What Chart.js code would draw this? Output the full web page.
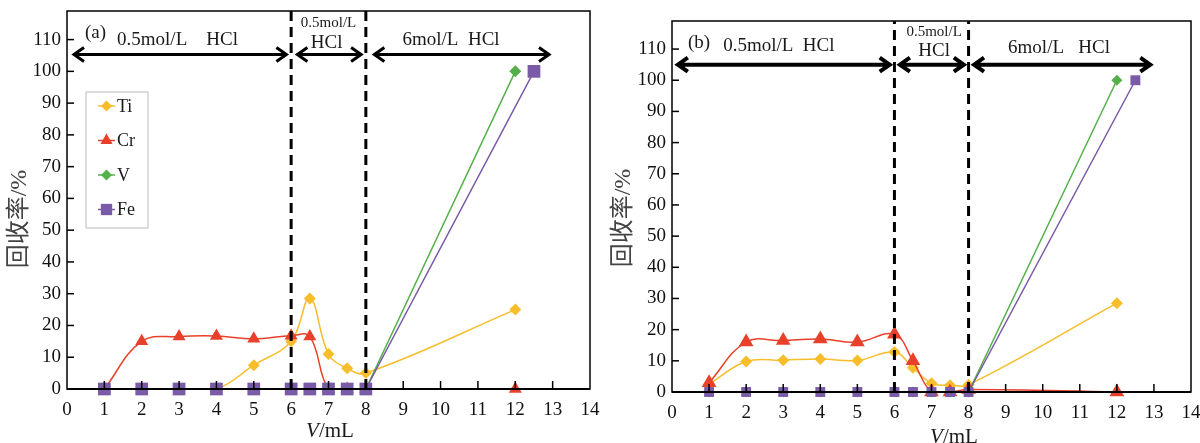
<!DOCTYPE html>
<html>
<head>
<meta charset="utf-8">
<script src="https://cdn.jsdelivr.net/npm/chart.js@4.4.0/dist/chart.umd.min.js"></script>
<style>
body { margin: 0; background: #fff; }
#wrap { position: relative; width: 1200px; height: 443px; }
canvas { position: absolute; top: 0; }
</style>
</head>
<body>
<div id="wrap">
  <canvas id="chartA" width="600" height="443" style="left:0"></canvas>
  <canvas id="chartB" width="600" height="443" style="left:600px"></canvas>
</div>
<script>
// eluent volume (mL)
var volume = [1, 2, 3, 4, 5, 6, 6.5, 7, 7.5, 8, 12];
var volumeFe = [1, 2, 3, 4, 5, 6, 6.5, 7, 7.5, 8, 12.5];

// (a)
var tiA = [0, 0, 0, 0, 7.5, 15, 28.5, 11, 6.5, 5, 25];
var crA = [0, 15, 16.5, 16.7, 15.8, 16.8, 16.5, 0, 0, 0, 0];
var vA  = [0, 0, 0, 0, 0, 0, 0, 0, 0, 0, 100];
var feA = [0, 0, 0, 0, 0, 0, 0, 0, 0, 0, 100];

// (b)
var tiB = [2.5, 9.8, 10.2, 10.6, 10.1, 12.8, 7.8, 2.8, 2.2, 2.3, 28.5];
var crB = [3, 16, 16.5, 17, 16, 18.5, 10, 0, 0, 0.8, 0];
var vB  = [0, 0, 0, 0, 0, 0, 0, 0, 0, 0, 100];
var feB = [0, 0, 0, 0, 0, 0, 0, 0, 0, 0, 100];

var names = ['Ti', 'Cr', 'V', 'Fe'];
var colors = ['#F7BD2B', '#E8402A', '#55B04B', '#7A5BA8'];
var shapes = ['rectRot', 'triangle', 'rectRot', 'rect'];

var serif = '"Liberation Serif", "Noto Sans CJK SC", serif';

function pts(xs, ys) {
  return xs.map(function (x, i) { return { x: x, y: ys[i] }; });
}

function drawShape(ctx, shape, x, y, r) {
  ctx.beginPath();
  if (shape === 'rect') {
    var s = r * Math.SQRT1_2;
    ctx.rect(x - s, y - s, 2 * s, 2 * s);
  } else if (shape === 'rectRot') {
    ctx.moveTo(x, y - r); ctx.lineTo(x + r, y); ctx.lineTo(x, y + r); ctx.lineTo(x - r, y);
    ctx.closePath();
  } else {
    for (var k = 0; k < 3; k++) {
      var ang = k * 2 * Math.PI / 3;
      var px = x + Math.sin(ang) * r, py = y - Math.cos(ang) * r;
      if (k === 0) ctx.moveTo(px, py); else ctx.lineTo(px, py);
    }
    ctx.closePath();
  }
  ctx.fill();
}

function arrow(ctx, x1, x2, y, w) {
  var h = 11, hw = 7;
  ctx.lineWidth = w;
  ctx.beginPath();
  ctx.moveTo(x1 + 2, y); ctx.lineTo(x2 - 2, y);
  ctx.moveTo(x1 + h, y - hw); ctx.lineTo(x1 + 1, y); ctx.lineTo(x1 + h, y + hw);
  ctx.moveTo(x2 - h, y - hw); ctx.lineTo(x2 - 1, y); ctx.lineTo(x2 - h, y + hw);
  ctx.stroke();
}

var decor = {
  id: 'decor',
  afterDatasetsDraw: function (chart, args, o) {
    var ctx = chart.ctx, a = chart.chartArea;
    var xs = chart.scales.x, ys = chart.scales.y;
    ctx.save();
    ctx.strokeStyle = '#000';
    ctx.fillStyle = '#000';

    // dashed dividers
    ctx.lineWidth = 3;
    ctx.setLineDash([10, 6]);
    [6, 8].forEach(function (v) {
      var px = xs.getPixelForValue(v);
      ctx.beginPath(); ctx.moveTo(px, a.bottom); ctx.lineTo(px, a.top); ctx.stroke();
    });
    ctx.setLineDash([]);

    // frame
    ctx.lineWidth = 1.5;
    ctx.strokeRect(a.left, a.top, a.right - a.left, a.bottom - a.top);
    ctx.lineWidth = 2;
    ctx.beginPath(); ctx.moveTo(a.left, a.bottom); ctx.lineTo(a.right, a.bottom); ctx.stroke();

    // inward tick marks
    ctx.lineWidth = 1.5;
    for (var i = 1; i < 14; i++) {
      var tx = xs.getPixelForValue(i);
      ctx.beginPath(); ctx.moveTo(tx, a.bottom); ctx.lineTo(tx, a.bottom - 8); ctx.stroke();
    }
    for (var j = 10; j <= 110; j += 10) {
      var ty = ys.getPixelForValue(j);
      ctx.beginPath(); ctx.moveTo(a.left, ty); ctx.lineTo(a.left + 7, ty); ctx.stroke();
    }

    // range arrows
    o.arrows.forEach(function (ar) {
      arrow(ctx, xs.getPixelForValue(ar[0]), xs.getPixelForValue(ar[1]), ys.getPixelForValue(o.arrowY), o.arrowW);
    });

    // annotations
    ctx.fillStyle = '#1a1a1a';
    ctx.textBaseline = 'middle';
    o.texts.forEach(function (t) {
      ctx.font = t.size + 'px ' + serif;
      ctx.textAlign = t.align;
      ctx.fillText(t.text, xs.getPixelForValue(t.x), ys.getPixelForValue(t.y));
    });

    // y title
    ctx.save();
    ctx.translate(o.yTitle[0], o.yTitle[1]);
    ctx.rotate(-Math.PI / 2);
    ctx.textAlign = 'center';
    ctx.fillStyle = '#444';
    ctx.font = '24px ' + serif;
    ctx.fillText('回收率/%', 0, 0);
    ctx.restore();

    // x title with italic V
    ctx.textAlign = 'left';
    ctx.font = 'italic 21px ' + serif;
    var wV = ctx.measureText('V').width;
    ctx.font = '21px ' + serif;
    var wR = ctx.measureText('/mL').width;
    var sx = o.xTitle[0] - (wV + wR) / 2;
    ctx.font = 'italic 21px ' + serif;
    ctx.fillText('V', sx, o.xTitle[1]);
    ctx.font = '21px ' + serif;
    ctx.fillText('/mL', sx + wV, o.xTitle[1]);

    // legend
    if (o.legend) {
      var L = o.legend;
      ctx.strokeStyle = '#bbbbbb';
      ctx.lineWidth = 1;
      ctx.strokeRect(L.x, L.y, L.w, L.h);
      chart.data.datasets.forEach(function (ds, k) {
        var cy = L.y + 14 + k * 34.5;
        ctx.strokeStyle = ds.borderColor;
        ctx.fillStyle = ds.borderColor;
        ctx.lineWidth = 1.5;
        ctx.beginPath(); ctx.moveTo(L.x + 12, cy); ctx.lineTo(L.x + 29, cy); ctx.stroke();
        drawShape(ctx, ds.pointStyle, L.x + 20.5, cy, ds.pointStyle === 'rect' ? 8 : (ds.pointStyle === 'triangle' ? 7 : 5.5));
        ctx.fillStyle = '#1a1a1a';
        ctx.font = '18px ' + serif;
        ctx.textAlign = 'left';
        ctx.fillText(ds.label, L.x + 31, cy + 1);
      });
    }
    ctx.restore();
  }
};

function makeChart(id, series, cfg) {
  var datasets = series.map(function (ys, k) {
    return {
      label: names[k],
      data: pts(k === 3 ? volumeFe : volume, ys),
      borderColor: colors[k],
      backgroundColor: colors[k],
      borderWidth: 1.5,
      pointStyle: shapes[k],
      pointRadius: cfg.radius[k],
      pointBorderWidth: 0,
      tension: k < 2 ? 0.4 : 0,
      clip: false,
      order: 4 - k
    };
  });
  return new Chart(document.getElementById(id), {
    type: 'line',
    data: { datasets: datasets },
    options: {
      responsive: false,
      animation: false,
      devicePixelRatio: 1,
      layout: { padding: { left: 0, right: cfg.padRight, top: cfg.padTop, bottom: 0 } },
      scales: {
        x: {
          type: 'linear', min: 0, max: 14,
          grid: { display: false, drawTicks: false },
          border: { display: false },
          ticks: { stepSize: 1, padding: 10, color: '#111', font: { family: serif, size: 19 } },
          afterFit: function (s) { s.height = cfg.xHeight; s.paddingLeft = 0; s.paddingRight = 0; }
        },
        y: {
          min: 0, max: 119,
          grid: { display: false, drawTicks: false },
          border: { display: false },
          ticks: { stepSize: 10, padding: 6, color: '#111', font: { family: serif, size: 19 } },
          afterBuildTicks: function (s) { s.ticks = s.ticks.filter(function (t) { return t.value % 10 === 0; }); },
          afterFit: function (s) { s.width = cfg.yWidth; s.paddingTop = 0; s.paddingBottom = 0; }
        }
      },
      plugins: {
        legend: { display: false },
        tooltip: { enabled: false },
        decor: cfg.decor
      }
    },
    plugins: [decor]
  });
}

makeChart('chartA', [tiA, crA, vA, feA], {
  radius: [6, 7.5, 6, 9],
  padRight: 10, padTop: 11, xHeight: 54, yWidth: 67,
  decor: {
    arrowY: 105.3, arrowW: 3,
    arrows: [[0.16, 5.9], [6.14, 7.9], [8.2, 12.93]],
    texts: [
      { text: '(a)', x: 0.48, y: 112, size: 19, align: 'left' },
      { text: '0.5mol/L    HCl', x: 1.34, y: 110, size: 19, align: 'left' },
      { text: '0.5mol/L', x: 7.0, y: 115.3, size: 15, align: 'center' },
      { text: 'HCl', x: 6.95, y: 108.9, size: 19, align: 'center' },
      { text: '6mol/L  HCl', x: 10.28, y: 110, size: 19, align: 'center' }
    ],
    yTitle: [20, 219],
    xTitle: [330, 431],
    legend: { x: 86, y: 92, w: 62, h: 136 }
  }
});

makeChart('chartB', [tiB, crB, vB, feB], {
  radius: [6, 8.5, 5.5, 7],
  padRight: 9, padTop: 21, xHeight: 51, yWidth: 72,
  decor: {
    arrowY: 105, arrowW: 4,
    arrows: [[0.13, 5.9], [6.12, 7.9], [8.12, 12.93]],
    texts: [
      { text: '(b)', x: 0.43, y: 111.9, size: 19, align: 'left' },
      { text: '0.5mol/L  HCl', x: 1.38, y: 110.9, size: 19, align: 'left' },
      { text: '0.5mol/L', x: 7.07, y: 115.4, size: 15, align: 'center' },
      { text: 'HCl', x: 7.07, y: 109.3, size: 19, align: 'center' },
      { text: '6mol/L   HCl', x: 10.44, y: 110.3, size: 19, align: 'center' }
    ],
    yTitle: [24, 218],
    xTitle: [354, 437],
    legend: null
  }
});
</script>
</body>
</html>
